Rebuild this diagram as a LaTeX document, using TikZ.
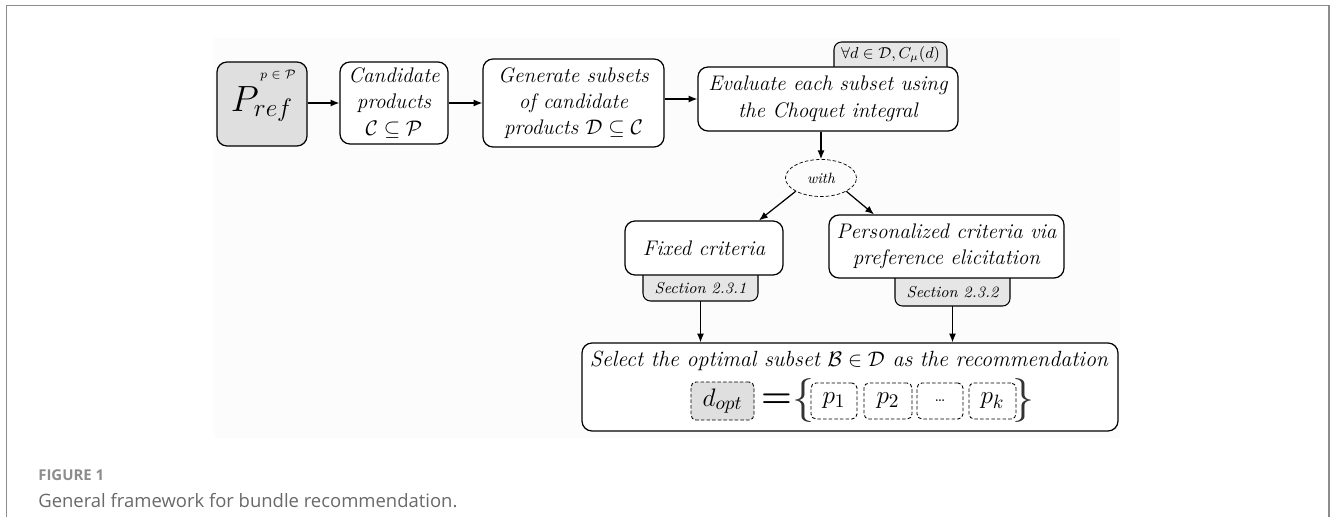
\documentclass[tikz,border=0pt]{standalone}
\usepackage{amsmath,amssymb}
\usepackage{fontspec}
\setsansfont{Open Sans}
\usetikzlibrary{arrows.meta,shapes.geometric,calc}

\definecolor{framegray}{RGB}{140,140,140}
\definecolor{capgray}{RGB}{105,105,105}
\definecolor{tabgray}{RGB}{230,230,230}
\definecolor{panelgray}{RGB}{252,252,252}

\tikzset{
  box/.style={draw, fill=white, rounded corners=0.2cm, line width=0.7pt, align=center, inner sep=0pt, font=\fontsize{12}{15}\selectfont\itshape},
  tabbox/.style={draw, fill=tabgray, rounded corners=0.15cm, line width=0.6pt},
  tabtext/.style={inner sep=0pt, font=\fontsize{9}{11}\selectfont\itshape},
  fine dash/.style={dash pattern=on 2pt off 1.2pt},
  item/.style={draw, fine dash, rounded corners=0.1cm, line width=0.5pt, inner sep=0pt, minimum height=0.72cm, font=\fontsize{15}{17}\selectfont},
  brace/.style={inner sep=0pt, font=\fontsize{25}{27}\selectfont, text=black!80},
  arr/.style={-{Latex[length=5pt,width=4pt]}, line width=0.7pt},
}

\begin{document}
\begin{tikzpicture}[x=1cm,y=-1cm]
\useasboundingbox (0,0) rectangle (26.64,10.34);
% frame and panel
\draw[framegray, line width=1.1pt] (0.13,10.34) -- (0.13,0.11) -- (26.58,0.11) -- (26.58,10.34);
\fill[panelgray] (4.28,0.76) rectangle (22.4,8.76);

% top row
\node[box, fill=gray!25, minimum width=1.8cm, minimum height=1.68cm] (pref) at (5.24,2.08) {\fontsize{22}{26}\selectfont$P_{ref}$};
\node[inner sep=0pt, font=\fontsize{7}{8}\selectfont] (pinP) at (5.56,1.5) {$p\in\mathcal{P}$};
\node[box, minimum width=2.16cm, minimum height=1.64cm] (cand) at (7.88,2.06) {Candidate\\products\\$\mathcal{C}\subseteq\mathcal{P}$};
\node[box, minimum width=3.62cm, minimum height=1.76cm] (gen) at (11.47,2.06) {Generate subsets\\of candidate\\products $\mathcal{D}\subseteq\mathcal{C}$};
\filldraw[tabbox] (16.68,0.84) rectangle (18.94,1.5);
\node[box, minimum width=5.2cm, minimum height=1.28cm] (eval) at (16.56,1.98) {Evaluate each subset using\\the Choquet integral};
\node[tabtext, font=\fontsize{9}{11}\selectfont] (forall) at (17.81,1.09) {$\forall d\in\mathcal{D}, C_\mu(d)$};

\draw[arr] (pref.east |- cand) -- (cand.west);
\draw[arr] (cand) -- (gen);
\draw[arr] (gen.east |- eval) -- (eval.west);

% criteria
\node[draw, fine dash, ellipse, minimum width=1.42cm, minimum height=0.74cm, inner sep=0pt, font=\fontsize{8.5}{10}\selectfont\itshape] (with) at (16.42,3.56) {with};
\draw[arr] (eval.south -| with) -- (with);

\filldraw[tabbox] (12.86,5.3) rectangle (15.16,6.02);
\node[box, minimum width=3.16cm, minimum height=1.08cm] (fixed) at (14.08,4.96) {Fixed criteria};
\node[tabtext, minimum width=2.3cm, minimum height=0.52cm] (sec1) at (14.01,5.76) {Section 2.3.1};

\filldraw[tabbox] (17.9,5.36) rectangle (20.2,6.12);
\node[box, minimum width=4.7cm, minimum height=1.26cm] (pers) at (18.93,4.93) {Personalized criteria via\\preference elicitation};
\node[tabtext, minimum width=2.3cm, minimum height=0.56cm] (sec2) at (19.05,5.84) {Section 2.3.2};

\draw[arr] (with.south west) -- ($(fixed.north)+(1.1,0)$);
\draw[arr] (with.south east) -- ($(pers.north)+(-1.45,0)$);

% selection
\node[box, minimum width=10.72cm, minimum height=1.76cm] (select) at (17.0,7.74) {};
\node[inner sep=0pt, font=\fontsize{12.5}{15}\selectfont\itshape] (seltxt) at (16.98,7.22) {Select the optimal subset $\mathcal{B}\in\mathcal{D}$ as the recommendation};
\draw[arr] (sec1) -- (sec1 |- select.north);
\draw[arr] (sec2) -- (sec2 |- select.north);

\node[item, fill=gray!25, minimum width=1.26cm, minimum height=0.76cm] (dopt) at (14.45,8.02) {$d_{opt}$};
\node[inner sep=0pt, font=\fontsize{20}{22}\selectfont\bfseries] (eq) at (15.54,8.02) {=};
\node[brace] (lbr) at (16.06,8.02) {\{};
\node[item, minimum width=0.92cm] (p1) at (16.68,8.02) {$p_1$};
\node[item, minimum width=0.96cm] (p2) at (17.76,8.02) {$p_2$};
\node[item, minimum width=0.92cm, font=\fontsize{9}{11}\selectfont] (dots) at (18.8,8.02) {\dots};
\node[item, minimum width=0.94cm] (pk) at (19.85,8.02) {$p_k$};
\node[brace] (rbr) at (20.46,8.02) {\}};

% caption
\node[anchor=west, inner sep=0pt, font=\sffamily\bfseries\fontsize{8.5}{10}\selectfont, text=framegray] (figno) at (0.76,9.5) {FIGURE 1};
\node[anchor=west, inner sep=0pt, font=\sffamily\fontsize{10.5}{12}\selectfont, text=capgray] (caption) at (0.76,10.02) {General framework for bundle recommendation.};
\end{tikzpicture}
\end{document}
